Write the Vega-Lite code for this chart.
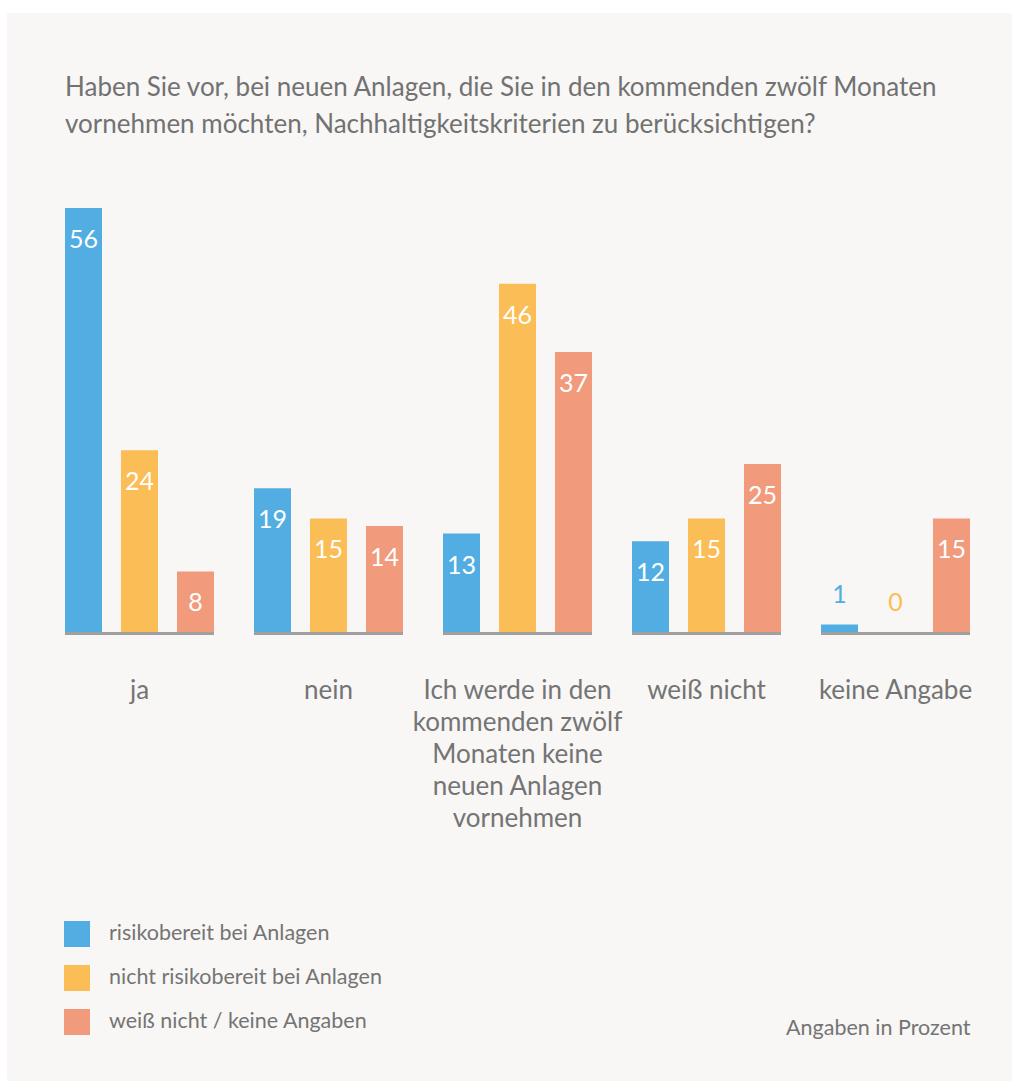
{
  "$schema": "https://vega.github.io/schema/vega-lite/v6.json",
  "width": 1005,
  "height": 1068,
  "autosize": {"type": "none"},
  "padding": {"left": 7, "top": 13, "right": 0, "bottom": 0},
  "background": "#ffffff",
  "config": {
    "view": {"fill": "#f8f7f5", "stroke": null},
    "font": "Lato"
  },
  "title": {
    "text": ["Haben Sie vor, bei neuen Anlagen, die Sie in den kommenden zwölf Monaten", "vornehmen möchten, Nachhaltigkeitskriterien zu berücksichtigen?"],
    "anchor": "start",
    "frame": "group",
    "orient": "top",
    "offset": -146,
    "dx": 58,
    "baseline": "alphabetic",
    "lineHeight": 37,
    "fontSize": 26,
    "fontWeight": "normal",
    "color": "#727272",
    "font": "Lato"
  },
  "data": {
    "values": [
      {"category": "ja", "series": "risikobereit bei Anlagen", "label": 56, "value": 56},
      {"category": "ja", "series": "nicht risikobereit bei Anlagen", "label": 24, "value": 24},
      {"category": "ja", "series": "weiß nicht / keine Angaben", "label": 8, "value": 8},
      {"category": "nein", "series": "risikobereit bei Anlagen", "label": 19, "value": 19},
      {"category": "nein", "series": "nicht risikobereit bei Anlagen", "label": 15, "value": 15},
      {"category": "nein", "series": "weiß nicht / keine Angaben", "label": 14, "value": 14},
      {"category": "Ich werde in den kommenden zwölf Monaten keine neuen Anlagen vornehmen", "series": "risikobereit bei Anlagen", "label": 13, "value": 13},
      {"category": "Ich werde in den kommenden zwölf Monaten keine neuen Anlagen vornehmen", "series": "nicht risikobereit bei Anlagen", "label": 46, "value": 46},
      {"category": "Ich werde in den kommenden zwölf Monaten keine neuen Anlagen vornehmen", "series": "weiß nicht / keine Angaben", "label": 37, "value": 37},
      {"category": "weiß nicht", "series": "risikobereit bei Anlagen", "label": 12, "value": 12},
      {"category": "weiß nicht", "series": "nicht risikobereit bei Anlagen", "label": 15, "value": 15},
      {"category": "weiß nicht", "series": "weiß nicht / keine Angaben", "label": 25, "value": 22.2},
      {"category": "keine Angabe", "series": "risikobereit bei Anlagen", "label": 1, "value": 1},
      {"category": "keine Angabe", "series": "nicht risikobereit bei Anlagen", "label": 0, "value": 0},
      {"category": "keine Angabe", "series": "weiß nicht / keine Angaben", "label": 15, "value": 15}
    ]
  },
  "encoding": {
    "x": {
      "field": "category",
      "type": "nominal",
      "sort": ["ja", "nein", "Ich werde in den kommenden zwölf Monaten keine neuen Anlagen vornehmen", "weiß nicht", "keine Angabe"],
      "scale": {"paddingInner": 0.2116, "paddingOuter": 0.2645, "align": 0.58},
      "axis": {
        "orient": "bottom",
        "offset": -449,
        "domain": false,
        "ticks": false,
        "grid": false,
        "labelAngle": 0,
        "labelFontSize": 26,
        "labelFont": "Lato",
        "labelColor": "#747474",
        "labelPadding": 45,
        "labelBaseline": "top",
        "labelLineHeight": 32,
        "labelLimit": 400,
        "labelOverlap": false,
        "labelBound": false,
        "labelExpr": "indexof(datum.label, 'Ich') == 0 ? ['Ich werde in den', 'kommenden zwölf', 'Monaten keine', 'neuen Anlagen', 'vornehmen'] : datum.label",
        "title": "Angaben in Prozent",
        "titleX": 963,
        "titleY": 396,
        "titleAlign": "right",
        "titleAnchor": null,
        "titleBaseline": "middle",
        "titleFontSize": 21.5,
        "titleFont": "Lato",
        "titleFontWeight": "normal",
        "titleColor": "#747474"
      }
    }
  },
  "layer": [
    {
      "mark": {"type": "bar", "color": "#a0a0a0"},
      "encoding": {
        "y": {"datum": 0, "type": "quantitative", "scale": {"domain": [-59.3, 81.76], "nice": false, "zero": false}, "axis": null},
        "y2": {"datum": -0.4}
      }
    },
    {
      "mark": {"type": "bar"},
      "encoding": {
        "xOffset": {"field": "series", "type": "nominal", "sort": ["risikobereit bei Anlagen", "nicht risikobereit bei Anlagen", "weiß nicht / keine Angaben"], "scale": {"paddingInner": 0.339, "paddingOuter": 0}},
        "y": {"field": "value", "type": "quantitative", "scale": {"domain": [-59.3, 81.76], "nice": false, "zero": false}, "axis": null},
        "y2": {"datum": 0},
        "color": {
          "field": "series",
          "type": "nominal",
          "sort": ["risikobereit bei Anlagen", "nicht risikobereit bei Anlagen", "weiß nicht / keine Angaben"],
          "scale": {"domain": ["risikobereit bei Anlagen", "nicht risikobereit bei Anlagen", "weiß nicht / keine Angaben"], "range": ["#52aee2", "#fbbd55", "#f19a7c"]},
          "legend": {
            "orient": "none",
            "legendX": 57,
            "legendY": 908,
            "title": null,
            "direction": "vertical",
            "symbolType": "square",
            "symbolSize": 676,
            "symbolStrokeWidth": 0,
            "symbolOpacity": 1,
            "labelFontSize": 21.5,
            "labelFont": "Lato",
            "labelColor": "#747474",
            "labelOffset": 19,
            "rowPadding": 18,
            "padding": 0,
            "labelLimit": 400
          }
        }
      }
    },
    {
      "transform": [{"filter": "datum.label >= 5"}],
      "mark": {"type": "text", "baseline": "middle", "align": "center", "dy": 32, "fontSize": 25, "font": "Lato", "fill": "#ffffff"},
      "encoding": {
        "xOffset": {"field": "series", "type": "nominal", "sort": ["risikobereit bei Anlagen", "nicht risikobereit bei Anlagen", "weiß nicht / keine Angaben"]},
        "y": {"field": "value", "type": "quantitative"},
        "text": {"field": "label", "type": "quantitative"}
      }
    },
    {
      "transform": [{"filter": "datum.label < 5"}],
      "mark": {"type": "text", "baseline": "middle", "align": "center", "dy": -29, "fontSize": 25, "font": "Lato"},
      "encoding": {
        "xOffset": {"field": "series", "type": "nominal", "sort": ["risikobereit bei Anlagen", "nicht risikobereit bei Anlagen", "weiß nicht / keine Angaben"]},
        "y": {"field": "value", "type": "quantitative"},
        "text": {"field": "label", "type": "quantitative"},
        "color": {"field": "series", "type": "nominal"}
      }
    }
  ]
}
